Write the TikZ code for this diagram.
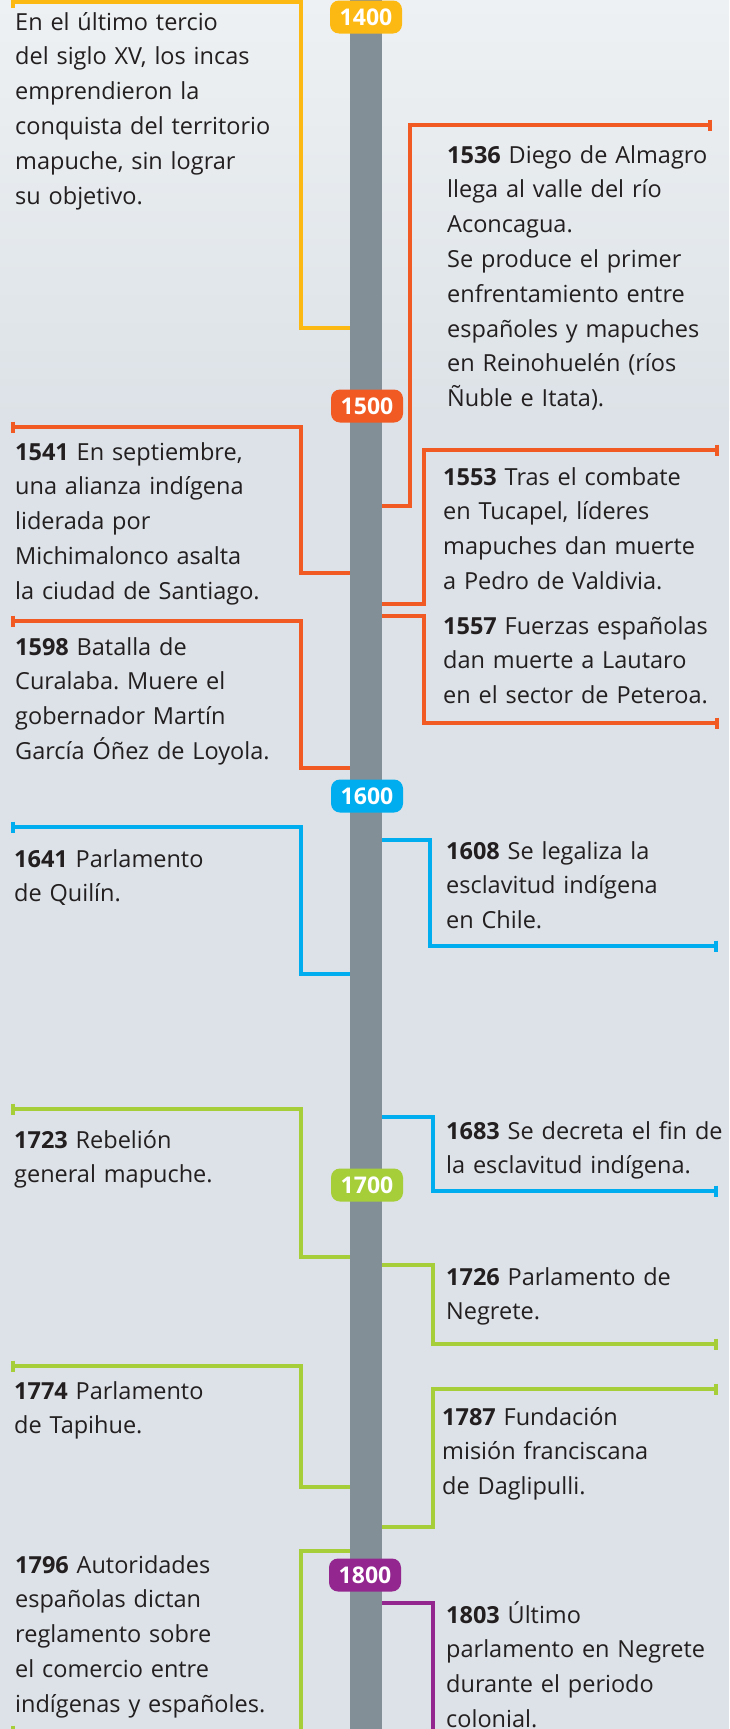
\documentclass[tikz,border=0pt]{standalone}
\usepackage{fontspec}
\setmainfont{Open Sans}
\frenchspacing
\definecolor{cYel}{HTML}{FDB913}
\definecolor{cOra}{HTML}{F15A22}
\definecolor{cBlu}{HTML}{00AEEF}
\definecolor{cGre}{HTML}{A6CE39}
\definecolor{cPur}{HTML}{93278F}
\definecolor{cBar}{HTML}{828F97}
\definecolor{cTxt}{HTML}{231F20}
\definecolor{bgTop}{HTML}{EEF1F3}
\definecolor{bgBot}{HTML}{DCE2E7}
\newcommand\evfont{\fontsize{23.5}{34.8}\selectfont}
\newcommand\badgefont{\fontsize{23}{26}\selectfont\bfseries}
\begin{document}
\begin{tikzpicture}[x=1pt,y=-1pt,
  evtext/.style={anchor=base west, inner sep=0pt, text width=300pt, align=left, font=\evfont, text=cTxt},
  badge/.style={fill=#1, rounded corners=9pt, minimum width=72pt, minimum height=33pt, inner sep=0pt, text=white, font=\badgefont},
  link/.style={draw=#1, line width=3.3pt},
]
\useasboundingbox (0,0) rectangle (729,1729);
% background
\shade[top color=bgTop, bottom color=bgBot] (0,0) rectangle (729,420);
\fill[bgBot] (0,419) rectangle (729,1729);
% central bar
\node[fill=cBar, minimum width=32pt, minimum height=1740pt, inner sep=0pt] (bar) at (366,864.5) {};

% ---- brackets ----
% 1400s (yellow)
\draw[link=cYel] (13,2) -- (301,2) |- (bar.west |- 0,328);
\draw[link=cYel] (13,-4) -- (13,8);
% 1536
\draw[link=cOra] (bar.east |- 0,506) -| (410,125) -- (710,125) coordinate (e1536);
\draw[link=cOra] (e1536) ++(0,-5.5) -- ++(0,11);
% 1541
\draw[link=cOra] (13,427) coordinate (e1541) -- (301,427) |- (bar.west |- 0,573);
\draw[link=cOra] (e1541) ++(0,-5.5) -- ++(0,11);
% 1553
\draw[link=cOra] (bar.east |- 0,604) -| (424,450) -- (717,450) coordinate (e1553);
\draw[link=cOra] (e1553) ++(0,-5.5) -- ++(0,11);
% 1557
\draw[link=cOra] (bar.east |- 0,616) -| (424,723) -- (717,723) coordinate (e1557);
\draw[link=cOra] (e1557) ++(0,-5.5) -- ++(0,11);
% 1598
\draw[link=cOra] (13,621) coordinate (e1598) -- (301,621) |- (bar.west |- 0,768);
\draw[link=cOra] (e1598) ++(0,-5.5) -- ++(0,11);
% 1608
\draw[link=cBlu] (bar.east |- 0,840) -| (430,946) -- (716,946) coordinate (e1608);
\draw[link=cBlu] (e1608) ++(0,-5.5) -- ++(0,11);
% 1641
\draw[link=cBlu] (13,827) coordinate (e1641) -- (301,827) |- (bar.west |- 0,974);
\draw[link=cBlu] (e1641) ++(0,-5.5) -- ++(0,11);
% 1683
\draw[link=cBlu] (bar.east |- 0,1117) -| (433,1191) -- (716,1191) coordinate (e1683);
\draw[link=cBlu] (e1683) ++(0,-5.5) -- ++(0,11);
% 1723
\draw[link=cGre] (13,1109) coordinate (e1723) -- (301,1109) |- (bar.west |- 0,1257);
\draw[link=cGre] (e1723) ++(0,-5.5) -- ++(0,11);
% 1726
\draw[link=cGre] (bar.east |- 0,1265) -| (433,1344) -- (716,1344) coordinate (e1726);
\draw[link=cGre] (e1726) ++(0,-5.5) -- ++(0,11);
% 1774
\draw[link=cGre] (13,1366) coordinate (e1774) -- (301,1366) |- (bar.west |- 0,1487);
\draw[link=cGre] (e1774) ++(0,-5.5) -- ++(0,11);
% 1787
\draw[link=cGre] (bar.east |- 0,1527) -| (433,1389) -- (716,1389) coordinate (e1787);
\draw[link=cGre] (e1787) ++(0,-5.5) -- ++(0,11);
% 1796
\draw[link=cGre] (bar.west |- 0,1551) -| (301,1731) -- (13,1731) coordinate (e1796);
\draw[link=cGre] (e1796) ++(0,-5.5) -- ++(0,11);
% 1803
\draw[link=cPur] (bar.east |- 0,1603) -| (433,1745);

% ---- century badges ----
\node[badge=cYel] (c1400) at (366,17) {1400};
\node[badge=cOra] (c1500) at (367,406) {1500};
\node[badge=cBlu] (c1600) at (367,796) {1600};
\node[badge=cGre] (c1700) at (367,1185) {1700};
\node[badge=cPur] (c1800) at (365,1575) {1800};

% ---- texts ----
\node[evtext] (t1400) at (15,30) {En el último tercio\\del siglo XV, los incas\\emprendieron la\\conquista del territorio\\mapuche, sin lograr\\su objetivo.};
\node[evtext] (t1536) at (447,163) {\textbf{1536} Diego de Almagro\\llega al valle del río\\Aconcagua.\\Se produce el primer\\enfrentamiento entre\\españoles y mapuches\\en Reinohuelén (ríos\\Ñuble e Itata).};
\node[evtext] (t1541) at (15,460) {\textbf{1541} En septiembre,\\una alianza indígena\\liderada por\\Michimalonco asalta\\la ciudad de Santiago.};
\node[evtext] (t1553) at (443,485) {\textbf{1553} Tras el combate\\en Tucapel, líderes\\mapuches dan muerte\\a Pedro de Valdivia.};
\node[evtext] (t1557) at (443,634) {\textbf{1557} Fuerzas españolas\\dan muerte a Lautaro\\en el sector de Peteroa.};
\node[evtext] (t1598) at (15,655) {\textbf{1598} Batalla de\\Curalaba. Muere el\\gobernador Martín\\García Óñez de Loyola.};
\node[evtext] (t1641) at (14,867) {\textbf{1641} Parlamento\\de Quilín.};
\node[evtext] (t1608) at (446,859) {\textbf{1608} Se legaliza la\\esclavitud indígena\\en Chile.};
\node[evtext] (t1683) at (446,1139) {\textbf{1683} Se decreta el fin de\\la esclavitud indígena.};
\node[evtext] (t1723) at (14,1148) {\textbf{1723} Rebelión\\general mapuche.};
\node[evtext] (t1726) at (446,1285) {\textbf{1726} Parlamento de\\Negrete.};
\node[evtext] (t1774) at (14,1399) {\textbf{1774} Parlamento\\de Tapihue.};
\node[evtext] (t1787) at (442,1425) {\textbf{1787} Fundación\\misión franciscana\\de Daglipulli.};
\node[evtext] (t1796) at (15,1573) {\textbf{1796} Autoridades\\españolas dictan\\reglamento sobre\\el comercio entre\\indígenas y españoles.};
\node[evtext] (t1803) at (446,1623) {\textbf{1803} Último\\parlamento en Negrete\\durante el periodo\\colonial.};
\end{tikzpicture}
\end{document}
